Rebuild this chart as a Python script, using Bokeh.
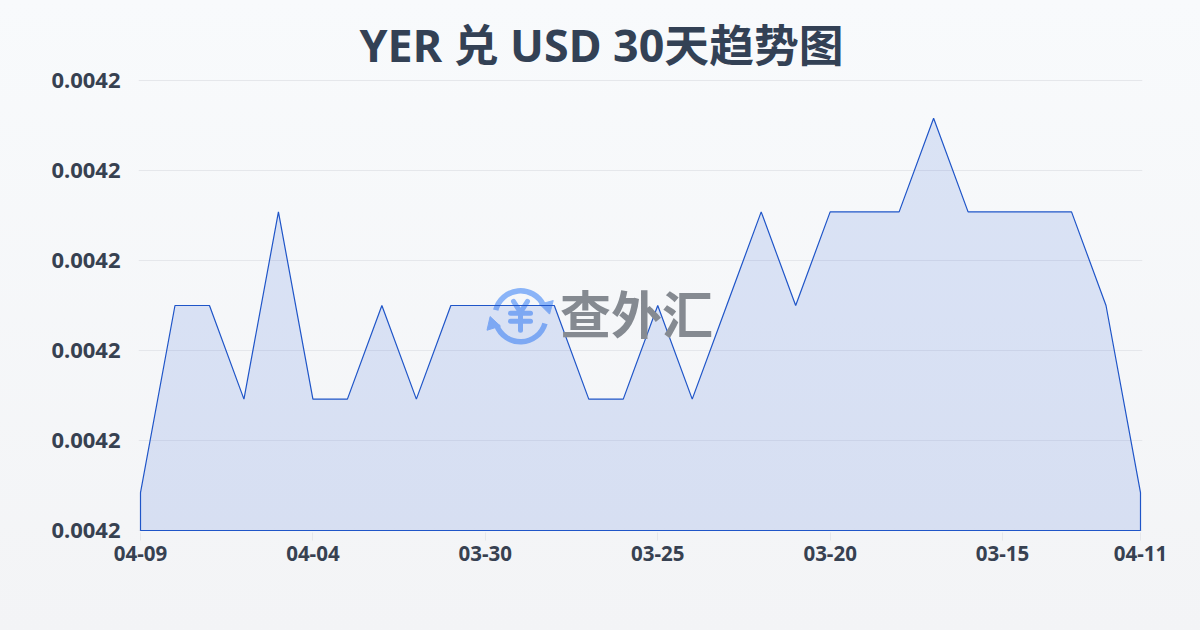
from bokeh.plotting import figure
from bokeh.models import FixedTicker, NumeralTickFormatter, Range1d, Label
from bokeh.embed import file_html
from bokeh.resources import INLINE

title_text = "YER 兑 USD 30天趋势图"
rates = [0.0041842, 0.0042050, 0.0042050, 0.0041946, 0.0042154, 0.0041946, 0.0041946, 0.0042050,
         0.0041946, 0.0042050, 0.0042050, 0.0042050, 0.0042050, 0.0041946, 0.0041946, 0.0042050,
         0.0041946, 0.0042050, 0.0042154, 0.0042050, 0.0042154, 0.0042154, 0.0042154, 0.0042258,
         0.0042154, 0.0042154, 0.0042154, 0.0042154, 0.0042050, 0.0041842]
x_tick_index = [0, 5, 10, 15, 20, 25, 29]
x_tick_labels = ["04-09", "04-04", "03-30", "03-25", "03-20", "03-15", "04-11"]
y_ticks = [0.00418, 0.00419, 0.00420, 0.00421, 0.00422, 0.00423]
y_floor = 0.00418
xs = list(range(len(rates)))

DARK = "#374151"
BLUE = "#1f55c8"
LOGO = "#8ab4f8"
CJK = "Noto Sans CJK SC"
LATIN = "Noto Sans"

# 2 px of slack on each side of the frame keeps the outline and top grid line from being clipped
PAD_X = 2 * 29 / 1000
PAD_Y = 2 * 0.00001 / 90
p = figure(width=1200, height=630, output_backend="svg", toolbar_location=None,
           x_range=Range1d(-PAD_X, 29 + PAD_X), y_range=Range1d(y_ticks[0] - PAD_Y, y_ticks[-1] + PAD_Y),
           min_border_left=138, min_border_right=58, min_border_top=78, min_border_bottom=98)
p.background_fill_alpha = 0
p.border_fill_alpha = 0
p.outline_line_color = None

p.title.text = title_text
p.title.align = "left"
p.title.offset = 221
p.title.text_font = "Noto Sans, Noto Sans CJK SC"
p.title.text_font_size = "44.8px"
p.title.text_font_style = "bold"
p.title.text_color = "#334155"
p.title.standoff = 7

p.xgrid.visible = False
p.ygrid.grid_line_color = "#e5e7eb"
p.ygrid.grid_line_width = 1
p.ygrid.bounds = (0, 29)

p.xaxis.ticker = FixedTicker(ticks=x_tick_index)
p.xaxis.major_label_overrides = dict(zip(x_tick_index, x_tick_labels))
p.yaxis.ticker = FixedTicker(ticks=y_ticks)
p.yaxis.formatter = NumeralTickFormatter(format="0.0000")
for ax in (p.xaxis[0], p.yaxis[0]):
    ax.axis_line_color = None
    ax.major_tick_line_color = "#e5e7eb"
    ax.minor_tick_line_color = None
    ax.major_tick_in = 0
    ax.major_label_text_color = DARK
    ax.major_label_text_font = LATIN
    ax.major_label_text_font_style = "bold"
p.xaxis.major_tick_out = 8
p.yaxis.major_tick_out = 0
p.xaxis.major_label_text_font_size = "20.5px"
p.yaxis.major_label_text_font_size = "22px"
p.xaxis.major_label_standoff = 5
p.yaxis.major_label_standoff = 18

# watermark logo: pixel offsets from its centre, converted through the plot's scales
cx, cy = 11.02, 0.0042038
PX = 29 / 1000
PY = 0.00001 / 90
def wx(dx): return cx + dx * PX
def wy(dy): return cy - dy * PY

p.arc(x=[cx, cx], y=[cy, cy], radius=25.5, radius_units="screen",
      start_angle=[0.45, 3.5], end_angle=[2.9, 6.0], line_color=LOGO, line_width=5.5)
p.scatter(x=[wx(27), wx(-28)], y=[wy(-10), wy(8)], size=14, marker="triangle",
          angle=[3.4, 0.3], color=LOGO)
yen_x = [[-7, 0, 7], [-10, 10], [-10, 10], [0, 0]]
yen_y = [[-15, -4, -15], [-3, -3], [5, 5], [-3, 14]]
p.multi_line(xs=[[wx(v) for v in seg] for seg in yen_x],
             ys=[[wy(v) for v in seg] for seg in yen_y],
             line_color=LOGO, line_width=5, line_cap="round", line_join="round")
p.add_layout(Label(x=498, x_units="screen", y=wy(-4), y_units="data", text="查外汇", text_color="#858a91",
                   text_font=CJK, text_font_size="51px", text_font_style="bold",
                   text_align="center", text_baseline="middle"))

# area with outline closing along the floor
p.patch(x=[xs[0]] + xs + [xs[-1]], y=[y_floor] + rates + [y_floor],
        fill_color="#3367d6", fill_alpha=0.15, line_color=BLUE, line_width=1.2)

template = """{% block postamble %}<style>html{height:100%;background:linear-gradient(180deg,#f8fafc 0%,#f3f4f6 100%);}body{background:transparent;}</style>{% endblock %}"""
open("out.html", "w").write(file_html(p, INLINE, template=template))
